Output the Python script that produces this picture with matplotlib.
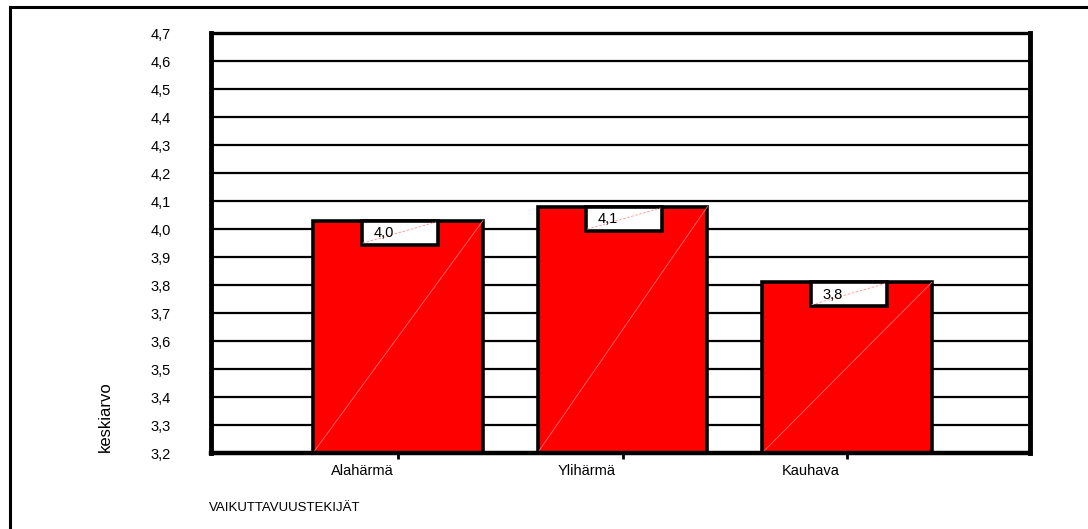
import numpy as np
import matplotlib
matplotlib.use("Agg")
import matplotlib.pyplot as plt
from matplotlib.patches import Rectangle
from matplotlib.transforms import offset_copy

plt.rcParams.update({"font.family": ["Liberation Sans", "DejaVu Sans"]})

categories = ["Alahärmä", "Ylihärmä", "Kauhava"]
values = [4.03, 4.08, 3.81]
value_labels = ["4,0", "4,1", "3,8"]
yticks = [3.2, 3.3, 3.4, 3.5, 3.6, 3.7, 3.8, 3.9, 4.0, 4.1, 4.2, 4.3, 4.4, 4.5, 4.6, 4.7]
ytick_labels = ["3,2", "3,3", "3,4", "3,5", "3,6", "3,7", "3,8", "3,9",
                "4,0", "4,1", "4,2", "4,3", "4,4", "4,5", "4,6", "4,7"]

RED = "#ff0000"
fig = plt.figure(figsize=(10.88, 5.29), dpi=100)
ax = fig.add_axes([211/1088, 1-453/529, (1030-211)/1088, (453-33)/529])

# outer frame (top + left)
fig.add_artist(plt.Line2D([10/1088, 1.0], [1-7/529, 1-7/529], color="k", lw=2.2, transform=fig.transFigure))
fig.add_artist(plt.Line2D([10/1088, 10/1088], [0, 1-7/529], color="k", lw=2.2, transform=fig.transFigure))

x = np.arange(len(categories))
ax.set_xlim(-0.833, 2.815)
ax.set_ylim(3.2, 4.7)
ax.set_yticks(yticks)
ax.set_yticklabels(ytick_labels, fontsize=10.5)
ax.tick_params(axis="y", length=0, pad=29)
for y in yticks:
    ax.axhline(y, color="k", lw=1.6, zorder=1)

bw = 0.757
ax.bar(x, [v - 3.2 for v in values], bottom=3.2, width=bw, color=RED,
       edgecolor="k", lw=2.6, zorder=3)
for i, v in enumerate(values):
    # faint diagonal across bar
    ax.plot([i - bw/2, i + bw/2], [3.2, v], color="#ff7070", lw=0.6, zorder=4)
    bwid, bh = 0.339, 0.0857
    ax.add_patch(Rectangle((i - bwid/2 + 0.008, v - bh), bwid, bh, facecolor="white",
                           edgecolor="k", lw=2.6, zorder=5))
    ax.plot([i - bwid/2 + 0.012, i + bwid/2], [v - bh + 0.005, v - 0.005], color="#ff9090",
            lw=0.6, ls=(0, (3, 2)), zorder=6)
    ax.text(i - 0.065, v - bh/2 - 0.002, value_labels[i], ha="center", va="center",
            fontsize=10.5, zorder=7)

ax.set_xticks(x)
ax.set_xticklabels([])
ax.tick_params(axis="x", length=4, width=2, direction="out")
trans = offset_copy(ax.get_xaxis_transform(), fig=fig, x=-36, y=-18, units="dots")
for i, c in enumerate(categories):
    ax.text(i, 0, c, transform=trans, ha="center", va="center", fontsize=10.5)

for s, lw in [("left", 3.5), ("bottom", 3.2), ("top", 2.4), ("right", 3.5)]:
    ax.spines[s].set_linewidth(lw)
    ax.spines[s].set_zorder(8)

fig.text(105/1088, 1-417/529, "keskiarvo", rotation=90, ha="center", va="center", fontsize=12)
fig.text(209/1088, 1-508/529, "VAIKUTTAVUUSTEKIJÄT", ha="left", va="center", fontsize=9.5)

fig.savefig("out.png", dpi=100)
